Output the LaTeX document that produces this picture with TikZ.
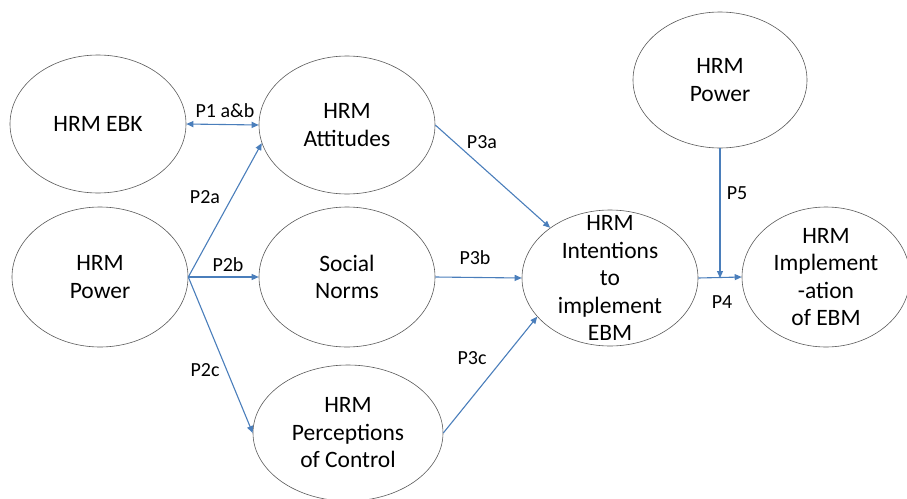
\documentclass[tikz,border=0pt]{standalone}
\usepackage{fontspec}
\setmainfont{Carlito}
\usetikzlibrary{shapes.geometric, arrows.meta, calc}
\definecolor{linkblue}{RGB}{74,126,187}
\tikzset{
  construct/.style 2 args={ellipse, draw=black!65, line width=0.6pt, inner sep=0pt,
    minimum width=#1, minimum height=#2},
  ctext/.style={align=center, font=\fontsize{23.5}{27.5}\selectfont},
  link/.style={draw=linkblue, line width=1.1pt},
  plabel/.style={font=\fontsize{20}{22}\selectfont},
  >={Triangle[length=7pt,width=6pt]}
}

\begin{document}
\begin{tikzpicture}[x=1pt,y=-1pt]
\useasboundingbox (0,0) rectangle (907,498);

% Constructs
\node[construct={176}{138}, label={[ctext]center:HRM EBK}] (ebk) at (98,124) {};
\node[construct={176}{138}, label={[ctext]center:HRM\\Attitudes}] (att) at (347,125) {};
\node[construct={176}{140}, label={[ctext]center:HRM\\Power}] (pow) at (100,277) {};
\node[construct={176}{140}, label={[ctext]center:Social\\Norms}] (norms) at (347,277) {};
\node[construct={190}{136}, label={[ctext]center:HRM\\Perceptions\\of Control}] (perc) at (348,433) {};
\node[construct={176}{136}, label={[ctext]center:HRM\\Intentions\\to\\implement\\EBM}] (intent) at (610,278) {};
\node[construct={174}{136}, label={[ctext]center:HRM\\Power}] (pow2) at (720,80) {};
\node[construct={168}{140}, label={[ctext]center:HRM\\Implement\\-ation\\of EBM}] (impl) at (826,277) {};

\coordinate (p4mid) at (pow2.south |- intent.east);

% Propositions
\draw[link, <->] (ebk.east) -- (att.west);
\draw[link, ->] (pow.east) -- (att.192);
\draw[link, ->] (pow.east) -- (norms.west);
\draw[link, ->] (pow.east) -- (perc.west);
\draw[link, ->] (att.east) -- (intent.140);
\draw[link, ->] (norms.east) -- (intent.west);
\draw[link, ->] (perc.east) -- (intent.208);
\draw[link, ->] (intent.east) -- (impl.west);
\draw[link, ->] (pow2.south) -- (p4mid);

% Labels
\node[plabel] (l1) at (225,111) {P1 a\&b};
\node[plabel] (l2a) at (205,197) {P2a};
\node[plabel] (l2b) at (228,265) {P2b};
\node[plabel] (l2c) at (205,370) {P2c};
\node[plabel] (l3a) at (482,142) {P3a};
\node[plabel] (l3b) at (475,258) {P3b};
\node[plabel] (l3c) at (472,358) {P3c};
\node[plabel] (l4) at (722,302) {P4};
\node[plabel] (l5) at (737,193) {P5};
\end{tikzpicture}
\end{document}
